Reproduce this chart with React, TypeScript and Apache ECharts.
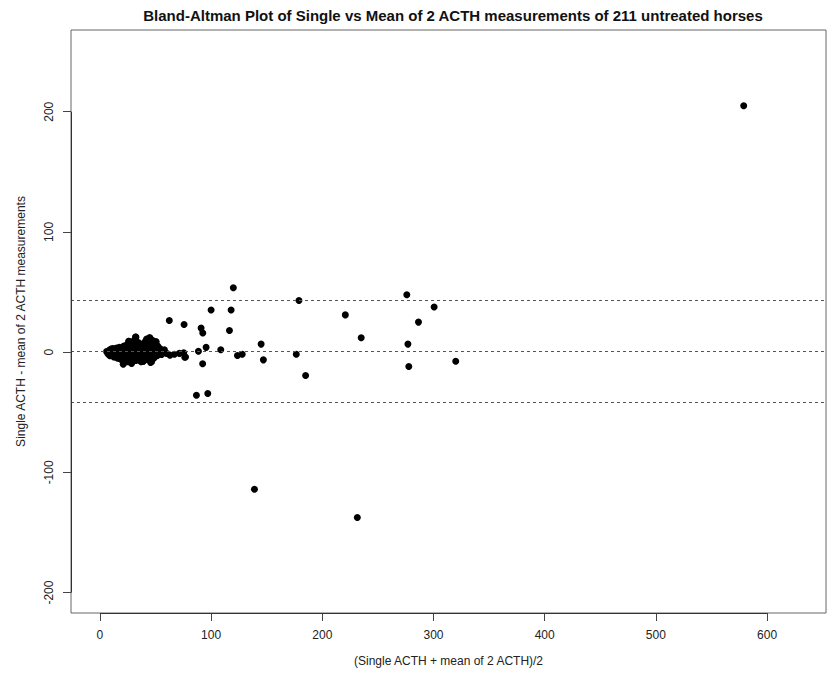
import React, { useEffect, useRef } from "react";
import * as echarts from "echarts";

const titleText = "Bland-Altman Plot of Single vs Mean of 2 ACTH measurements of 211 untreated horses";
const xName = "(Single ACTH + mean of 2 ACTH)/2";
const yName = "Single ACTH - mean of 2 ACTH measurements";
const xTicks = [0, 100, 200, 300, 400, 500, 600];
const yTicks = [-200, -100, 0, 100, 200];
const xRange = [-26, 653];
const yRange = [-217, 268];
const refLines = [43.5, 1, -41.5];

// dense cluster of low-concentration horses
const clusterLow = [
  [6, 0.5], [7, -1], [7.5, 1], [8, -2], [8, 0], [8.5, 1.5], [9, -0.5], [9, -3], [9.5, 2], [10, 0],
  [10, -1.5], [10.5, 1], [11, -2.5], [11, 0.5], [11.5, 3], [12, -1], [12, 1.5], [12.5, -4], [13, 0], [13, 2.5],
  [13.5, -2], [14, 1], [14, -0.5], [14.5, -3], [15, 0.5], [15, 3.5], [15.5, -1.5], [16, 2], [16, -5], [16.5, 0],
  [17, -2.5], [17, 1], [17.5, 4], [18, -0.5], [18, -3.5], [18.5, 2], [19, 0], [19, -6], [19.5, 1.5], [20, -2],
  [20, 3], [20.5, -0.5], [21, -4], [21, 1], [21.5, 5], [22, -1.5], [22, 0.5], [22.5, -7],
  [9, 1], [10, 2.5], [11, -1], [12, 0], [13, -1.5], [14, 2], [15, -2], [16, 0.5], [17, -1], [18, 1],
  [19, -1.5], [20, 0.5], [12, -2.5], [14, -4], [16, 3], [18, -5], [20, -3.5], [22, 2.5], [23, -2], [24, 0],
  [24, -5.5], [25, 2],
];

const clusterMid = [
  [23, 4], [23.5, -3], [24, 6], [24.5, -1], [25, -8], [25, 0.5], [25.5, 3], [26, 9], [26, -4], [26.5, 1],
  [27, -2], [27, 5], [27.5, -6], [28, 0], [28, 2.5], [28.5, -9.5], [29, -1], [29, 7], [29.5, 3.5], [30, -3],
  [30, 0.5], [30.5, -5], [31, 2], [31, 10], [31.5, -1.5], [32, 12.5], [32, 4], [32.5, -7], [33, 0], [33, -2.5],
  [33.5, 5.5], [34, 1.5], [34, -4], [34.5, 8], [35, -1], [35, 3], [35.5, -6.5], [36, 0.5], [36, 6], [36.5, -3],
  [37, 2], [37, -8], [37.5, 4.5], [38, -0.5], [38, 1], [38.5, 7], [39, -2], [39, -7.5], [39.5, 3], [40, 0],
];

const clusterHigh = [
  [40.5, 5], [41, -4], [41, 9], [41.5, 1.5], [42, -1], [42, 11], [42.5, 3], [43, -6], [43, 0], [43.5, 7.5],
  [44, -2.5], [44, 2], [44.5, 12], [45, -0.5], [45, 5], [45.5, -8.5], [46, 1], [46, 10], [46.5, -3.5], [47, 3.5],
  [47, 9.5], [47.5, -1], [48, 0.5], [48, 6.5], [48.5, -5], [49, 2], [49, 8.5], [49.5, -2], [50, 4], [50, -0.5],
  [50.5, 8.6], [51, 1], [51.5, -3], [52, 5], [52.5, 0], [53, 2.5], [53.5, -1.5], [54, 3], [55, 0.5], [55.5, -2],
  [56, 1], [57, -0.5], [58, 2], [60, -1],
];

const spread = [
  [579, 205], [62.4, 26.4], [75.7, 23], [91, 20], [92.5, 16], [100, 35], [120, 53.6], [118, 35], [116.5, 18],
  [145, 6.7], [147, -6.4], [179, 43], [176.6, -1.7], [185, -19.4], [220.7, 31], [235, 12], [276, 47.8],
  [286.5, 25], [300.6, 37.5], [277, 6.7], [277.8, -12], [320, -7.5], [88.6, 0.8], [95.5, 4], [108.7, 2],
  [123.7, -2.8], [128, -1.7], [92.4, -9.7], [75.4, -0.6], [76.3, -4.2], [139, -114], [231.5, -137.5],
  [86.8, -35.8], [97, -34.4], [63, -2.5], [67, -1.7], [71.5, -1], [77, -4], [32.4, 12.5], [26, 9], [45, 12],
  [47.4, 9.7], [50.4, 8.6], [39, -7.5], [46.5, -8], [21, -10],
];

const FONT = "'Liberation Sans', Arial, Helvetica, sans-serif";

export default function App() {
  const ref = useRef<HTMLDivElement>(null);
  useEffect(() => {
    if (!ref.current) return;
    const chart = echarts.init(ref.current, null, { renderer: "svg" });
    const points = [...clusterLow, ...clusterMid, ...clusterHigh, ...spread];
    chart.setOption({
      animation: false,
      backgroundColor: "#ffffff",
      textStyle: { fontFamily: FONT },
      graphic: [
        {
          type: "text",
          x: 453,
          y: 8,
          style: {
            text: titleText,
            fontFamily: FONT,
            fontSize: 15,
            fontWeight: "bold",
            fill: "#111",
            textAlign: "center",
            textVerticalAlign: "top",
          },
        },
      ],
      grid: {
        left: 71,
        right: 3,
        top: 30,
        bottom: 65,
        show: true,
        borderColor: "#666",
        borderWidth: 1,
        backgroundColor: "transparent",
      },
      xAxis: {
        type: "value",
        min: xRange[0],
        max: xRange[1],
        name: xName,
        nameLocation: "middle",
        nameGap: 42,
        nameTextStyle: { fontFamily: FONT, fontSize: 12, color: "#222" },
        axisLine: { show: false, onZero: false },
        splitLine: { show: false },
        axisTick: {
          show: true,
          inside: false,
          length: 8,
          customValues: xTicks,
          lineStyle: { color: "#444", width: 1 },
        },
        axisLabel: {
          customValues: xTicks,
          margin: 16,
          fontFamily: FONT,
          fontSize: 12,
          color: "#222",
        },
      },
      yAxis: {
        type: "value",
        min: yRange[0],
        max: yRange[1],
        name: yName,
        nameLocation: "middle",
        nameGap: 44,
        nameRotate: 90,
        nameTextStyle: { fontFamily: FONT, fontSize: 12, color: "#222" },
        axisLine: { show: false, onZero: false },
        splitLine: { show: false },
        axisTick: {
          show: true,
          inside: false,
          length: 8,
          customValues: yTicks,
          lineStyle: { color: "#444", width: 1 },
        },
        axisLabel: {
          customValues: yTicks,
          rotate: 90,
          margin: 16,
          fontFamily: FONT,
          fontSize: 12,
          color: "#222",
        },
      },
      series: [
        {
          type: "scatter",
          data: points,
          symbol: "circle",
          symbolSize: 7,
          itemStyle: { color: "#000", opacity: 1 },
          silent: true,
          z: 3,
        },
        {
          type: "line",
          data: [],
          silent: true,
          clip: false,
          z: 2,
          markLine: {
            silent: true,
            symbol: "none",
            label: { show: false },
            lineStyle: { color: "#555", type: [3, 3], width: 1 },
            data: refLines.map((v) => ({ yAxis: v })),
          },
        },
        {
          type: "line",
          data: [],
          silent: true,
          clip: false,
          z: 4,
          markLine: {
            silent: true,
            symbol: "none",
            label: { show: false },
            lineStyle: { color: "#333", type: "solid", width: 1 },
            data: [
              [{ coord: [xTicks[0], yRange[0]] }, { coord: [xTicks[xTicks.length - 1], yRange[0]] }],
              [{ coord: [xRange[0], yTicks[0]] }, { coord: [xRange[0], yTicks[yTicks.length - 1]] }],
            ],
          },
        },
      ],
    });
    return () => chart.dispose();
  }, []);
  return (
    <div
      ref={ref}
      style={{ position: "fixed", left: 0, top: 0, width: 829, height: 678, background: "#fff" }}
    />
  );
}
